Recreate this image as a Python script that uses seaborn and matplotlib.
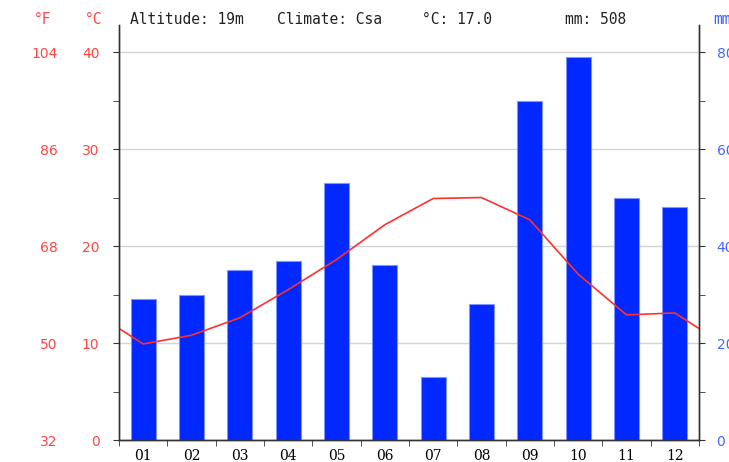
import numpy as np
import seaborn as sns
import matplotlib.pyplot as plt

# climate chart data
months = ["01", "02", "03", "04", "05", "06", "07", "08", "09", "10", "11", "12"]
precip_mm = [29, 30, 35, 37, 53, 36, 13, 28, 70, 79, 50, 48]
temp_c = [9.9, 10.8, 12.6, 15.5, 18.6, 22.2, 24.9, 25.0, 22.7, 17.1, 12.9, 13.1]
header = {"alt": "Altitude: 19m", "clim": "Climate: Csa", "t": "°C: 17.0", "p": "mm: 508"}
c_ticks = [0, 10, 20, 30, 40]
f_ticks = [32, 50, 68, 86, 104]
mm_ticks = [0, 20, 40, 60, 80]

RED = "#ff4444"
BLUE = "#4466ff"
BAR = "#0028ff"
AXC = "#333333"

W, H = 729, 462
fig = plt.figure(figsize=(W / 100, H / 100), dpi=100)
ax = fig.add_axes([119 / W, 22 / H, 580 / W, 415 / H])

sns.barplot(x=months, y=precip_mm, ax=ax, color=BAR, saturation=1,
            width=0.52, edgecolor="#7f95ff", linewidth=0.8, zorder=2)
ax.set_ylim(0, 85.6)
ax.set_xlim(-0.5, 11.5)
ax.set_axisbelow(True)
ax.yaxis.grid(True, color="#d4d4d4", lw=1)
ax.set_xticks(range(12), months)
ax.set_xticks(np.arange(-0.5, 12, 1), minor=True)
ax.tick_params(axis="x", which="major", length=0, pad=6.5, labelsize=10)
ax.tick_params(axis="x", which="minor", length=4, color=AXC)
for lab in ax.get_xticklabels():
    lab.set_family("DejaVu Serif")
ax.set_xlabel("")
ax.set_ylabel("")

# temperature line, closed to the chart edges between Dec and Jan
edge = (temp_c[0] + temp_c[-1]) / 2
xs = [-0.5] + list(range(12)) + [11.5]
ys = [edge] + temp_c + [edge]
axt = ax.twinx()
sns.lineplot(x=xs, y=ys, ax=axt, color="#ff3030", lw=1.2, sort=False)
axt.set_ylim(0, 42.79)
axt.yaxis.tick_left()
axt.set_yticks(c_ticks)
axt.set_yticks([5, 15, 25, 35], minor=True)
axt.tick_params(axis="y", which="both", length=4, color=AXC, labelcolor=RED,
                labelsize=10, pad=10)
axt.set_ylabel("")

# precipitation scale on the right (after twinx, which resets it)
ax.yaxis.tick_right()
ax.set_yticks(mm_ticks)
ax.set_yticks([10, 30, 50, 70], minor=True)
ax.tick_params(axis="y", which="both", length=4, color=AXC, labelcolor=BLUE,
               labelsize=10, pad=8.6)

sec = axt.secondary_yaxis("left", functions=(lambda c: c * 9 / 5 + 32,
                                             lambda f: (f - 32) * 5 / 9))
sec.set_yticks(f_ticks)
sec.tick_params(length=0, labelcolor=RED, labelsize=10, pad=44)
sec.spines["left"].set_visible(False)

for a in (ax, axt):
    a.spines["top"].set_visible(False)
    for s in ("left", "right", "bottom"):
        a.spines[s].set_color(AXC)
        a.spines[s].set_linewidth(1)

ty = 1 - 19 / H
mono = dict(family="DejaVu Sans Mono", fontsize=10.5, va="center")
fig.text(34 / W, ty, "°F", color=RED, **mono)
fig.text(85 / W, ty, "°C", color=RED, **mono)
fig.text(130 / W, ty, header["alt"], color="#222222", **mono)
fig.text(277 / W, ty, header["clim"], color="#222222", **mono)
fig.text(422 / W, ty, header["t"], color="#222222", **mono)
fig.text(565 / W, ty, header["p"], color="#222222", **mono)
fig.text(713 / W, ty, "mm", color=BLUE, **mono)

fig.savefig("out.png", dpi=100, facecolor="white")
